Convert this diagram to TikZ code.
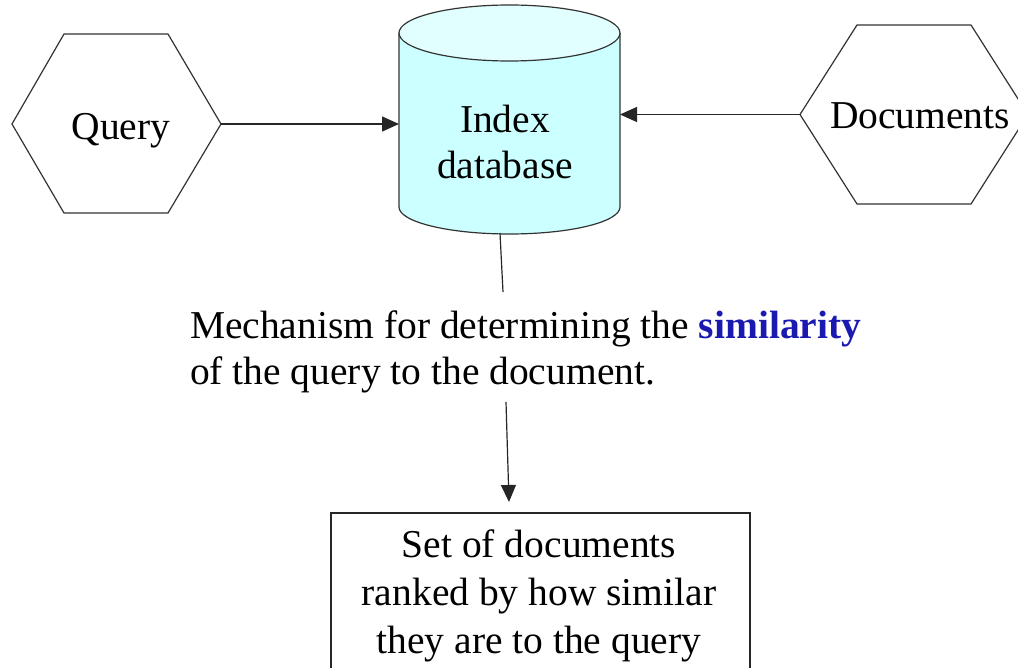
\documentclass[tikz,border=0pt]{standalone}
\usepackage{fontspec}
\setmainfont{Liberation Serif}
\usetikzlibrary{arrows.meta}
\definecolor{cylbody}{RGB}{204,255,255}
\definecolor{cyltop}{RGB}{226,255,255}
\definecolor{simblue}{RGB}{26,26,176}
\begin{document}
\begin{tikzpicture}[x=1pt,y=1pt,
  every node/.style={font=\fontsize{39.5}{46}\selectfont, inner sep=0pt, outer sep=0pt},
  conn/.style={line width=1.2pt, draw=black!85},
  arr/.style={conn, -{Triangle[length=17pt,width=15pt]}},
  hexline/.style={line width=1.2pt, draw=black!80},
  cylline/.style={line width=1.2pt, draw=black!80},
  resbox/.style={draw=black!85, line width=1.2pt, minimum width=419pt, minimum height=170pt, align=center}]
\useasboundingbox (0,0) rectangle (1018,-668);
\clip (0,0) rectangle (1018,-668);
% Query hexagon
\draw[hexline] (12,-124) coordinate (q-w) -- (64,-34) -- (168,-34) -- (221,-124) coordinate (q-e) -- (168,-213) -- (64,-213) -- cycle;
\node (query) at (121,-131) {Query};
% Documents hexagon
\draw[hexline] (800,-114.5) coordinate (d-w) -- (857,-25) -- (971,-25) -- (1028,-114.5) -- (971,-204) -- (857,-204) -- cycle;
\node (docs) at (920,-116) {Documents};
% Cylinder
\fill[cylbody] (399,-33) -- (399,-207) arc[start angle=180,end angle=360,x radius=110.5,y radius=27] -- (620,-33) arc[start angle=0,end angle=180,x radius=110.5,y radius=28] -- cycle;
\draw[cylline] (399,-33) -- (399,-207) arc[start angle=180,end angle=360,x radius=110.5,y radius=27] -- (620,-33);
\draw[cylline, fill=cyltop] (509.5,-33) ellipse[x radius=110.5, y radius=28];
\coordinate (db-w) at (399,-124);
\coordinate (db-e) at (620,-114.5);
\coordinate (db-s) at (500,-233);
\node[align=center] (db) at (505,-142) {Index\\database};
% connectors
\draw[arr] (q-e) -- (db-w);
\draw[arr] (d-w) -- (db-e);
% mechanism text
\node[align=left, anchor=west] (mech) at (190,-352) {Mechanism for determining the \textcolor{simblue}{\textbf{similarity}}\\of the query to the document.};
\coordinate (mech-n) at (503,-292);
\coordinate (mech-s) at (506,-402);
\draw[conn] (db-s) -- (mech-n);
% result box
\node[resbox] (res) at (540.5,-598) {};
\node[align=center, font=\fontsize{39.5}{48}\selectfont] (restext) at (539,-596) {Set of documents\\ranked by how similar\\they are to the query};
\coordinate (res-in) at (509,-502);
\draw[arr] (mech-s) -- (res-in);
\end{tikzpicture}
\end{document}
